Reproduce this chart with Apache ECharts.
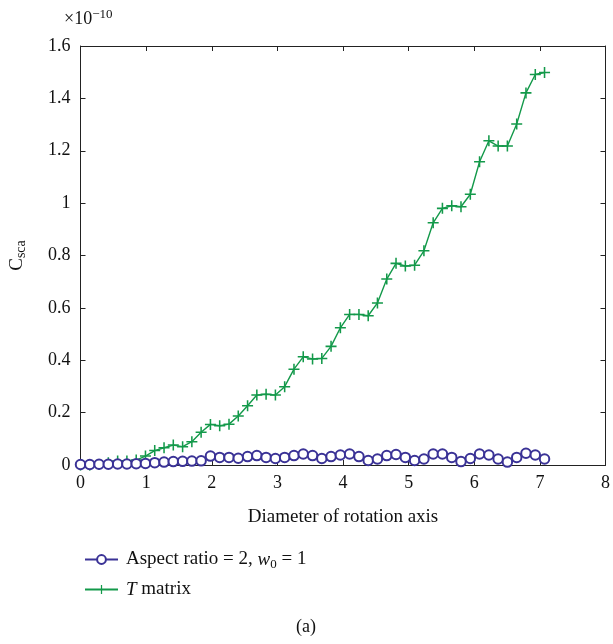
<!DOCTYPE html>
<html>
<head>
<meta charset="utf-8">
<script src="https://cdn.jsdelivr.net/npm/echarts@6/dist/echarts.min.js"></script>
<style>
  html, body { margin: 0; padding: 0; background: #fff; }
  #main { width: 613px; height: 644px; }
</style>
</head>
<body>
<div id="main"></div>
<script>
// diameter of rotation axis (x)
var diameters = [0, 0.141, 0.283, 0.424, 0.566, 0.707, 0.849, 0.990, 1.131, 1.273,
  1.414, 1.556, 1.697, 1.838, 1.980, 2.121, 2.263, 2.404, 2.546, 2.687,
  2.828, 2.970, 3.111, 3.253, 3.394, 3.536, 3.677, 3.818, 3.960, 4.101,
  4.243, 4.384, 4.525, 4.667, 4.808, 4.950, 5.091, 5.233, 5.374, 5.515,
  5.657, 5.798, 5.940, 6.081, 6.223, 6.364, 6.505, 6.647, 6.788, 6.930, 7.071];

// C_sca in units of 1e-10
var aspectRatio = [0.002, 0.002, 0.003, 0.003, 0.004, 0.004, 0.005, 0.006, 0.009, 0.011,
  0.013, 0.014, 0.015, 0.016, 0.034, 0.029, 0.029, 0.026, 0.032, 0.036,
  0.029, 0.025, 0.029, 0.036, 0.042, 0.036, 0.025, 0.032, 0.038, 0.042,
  0.032, 0.017, 0.023, 0.036, 0.040, 0.029, 0.017, 0.023, 0.042, 0.042,
  0.029, 0.013, 0.025, 0.042, 0.038, 0.023, 0.011, 0.029, 0.045, 0.038, 0.023];

var tMatrix = [0, 0, 0.002, 0.009, 0.015, 0.015, 0.019, 0.034, 0.055, 0.066,
  0.076, 0.070, 0.089, 0.125, 0.155, 0.150, 0.156, 0.187, 0.226, 0.267,
  0.270, 0.267, 0.299, 0.366, 0.413, 0.405, 0.407, 0.453, 0.524, 0.575,
  0.575, 0.570, 0.619, 0.710, 0.770, 0.760, 0.763, 0.818, 0.925, 0.980,
  0.990, 0.986, 1.034, 1.158, 1.238, 1.218, 1.218, 1.302, 1.421, 1.491, 1.499];

var seriesNames = ['Aspect ratio', 'T matrix'];

function pairs(xs, ys) {
  var out = [];
  for (var i = 0; i < xs.length; i++) out.push([xs[i], ys[i]]);
  return out;
}

var FONT = '"Liberation Serif", "DejaVu Serif", serif';
var BLUE = '#3a3296';
var GREEN = '#13994a';
var AXIS = '#222';
var INK = '#111';

var chart = echarts.init(document.getElementById('main'));

function frameAxis(pos, isX) {
  return {
    type: 'value', position: pos,
    min: 0, max: isX ? 8 : 1.6, interval: isX ? 1 : 0.2,
    axisLine: { show: true, onZero: false, lineStyle: { color: AXIS, width: 1 } },
    axisTick: { show: true, inside: true, length: 5, lineStyle: { color: AXIS } },
    axisLabel: { show: false },
    splitLine: { show: false }
  };
}

var option = {
  backgroundColor: '#fff',
  animation: false,
  grid: { left: 79, right: 5, top: 46, bottom: 179 },
  xAxis: [{
    type: 'value', position: 'bottom',
    min: 0, max: 8, interval: 1,
    name: 'Diameter of rotation axis',
    nameLocation: 'middle', nameGap: 43,
    nameTextStyle: { fontFamily: FONT, fontSize: 19, color: INK },
    axisLine: { show: true, onZero: false, lineStyle: { color: AXIS, width: 1 } },
    axisTick: { show: true, inside: true, length: 5, lineStyle: { color: AXIS } },
    axisLabel: { fontFamily: FONT, fontSize: 18, color: INK, margin: 9 },
    splitLine: { show: false }
  }, frameAxis('top', true)],
  yAxis: [{
    type: 'value', position: 'left',
    min: 0, max: 1.6, interval: 0.2,
    name: '{c|C}{s|sca}',
    nameLocation: 'middle', nameGap: 52, nameRotate: 90,
    nameTextStyle: {
      rich: {
        c: { fontFamily: FONT, fontSize: 19, color: INK },
        s: { fontFamily: FONT, fontSize: 14, color: INK, padding: [8, 0, 0, 0] }
      }
    },
    axisLine: { show: true, onZero: false, lineStyle: { color: AXIS, width: 1 } },
    axisTick: { show: true, inside: true, length: 5, lineStyle: { color: AXIS } },
    axisLabel: { fontFamily: FONT, fontSize: 18, color: INK, margin: 10 },
    splitLine: { show: false }
  }, frameAxis('right', false)],
  legend: {
    orient: 'vertical', left: 79, top: 545, itemGap: 9,
    itemWidth: 33, itemHeight: 11,
    data: seriesNames,
    formatter: function (name) {
      if (name === 'Aspect ratio') return '{t|Aspect ratio = 2, }{i|w}{s|0}{t| = 1}';
      return '{i|T}{t| matrix}';
    },
    textStyle: {
      fontFamily: FONT, fontSize: 19, color: INK, padding: [0, 0, 0, 3],
      rich: {
        t: { fontFamily: FONT, fontSize: 19, color: INK },
        i: { fontFamily: FONT, fontSize: 19, color: INK, fontStyle: 'italic' },
        s: { fontFamily: FONT, fontSize: 13, color: INK, padding: [10, 0, 0, 0] }
      }
    }
  },
  graphic: [
    {
      type: 'text', left: 296, top: 618,
      style: { text: '(a)', fontFamily: FONT, fontSize: 18, fill: INK }
    },
    {
      type: 'text', left: 64, top: 8,
      style: {
        text: '{a|×10}{b|−10}',
        rich: {
          a: { fontFamily: FONT, fontSize: 18, fill: INK },
          b: { fontFamily: FONT, fontSize: 13, fill: INK, padding: [0, 0, 10, 0] }
        }
      }
    }
  ],
  series: [
    {
      name: 'T matrix', type: 'line', z: 2,
      data: pairs(diameters, tMatrix),
      symbol: 'path://M4.3,0h1.4v10h-1.4z M0,4.3h10v1.4h-10z',
      symbolSize: 11, showAllSymbol: true,
      lineStyle: { color: GREEN, width: 1.4 },
      itemStyle: { color: GREEN }
    },
    {
      name: 'Aspect ratio', type: 'line', z: 3,
      data: pairs(diameters, aspectRatio),
      symbol: 'emptyCircle', symbolSize: 9.5, showAllSymbol: true,
      lineStyle: { color: BLUE, width: 1.1 },
      itemStyle: { color: BLUE, borderColor: BLUE, borderWidth: 1.2 }
    }
  ]
};

chart.setOption(option);
</script>
</body>
</html>
